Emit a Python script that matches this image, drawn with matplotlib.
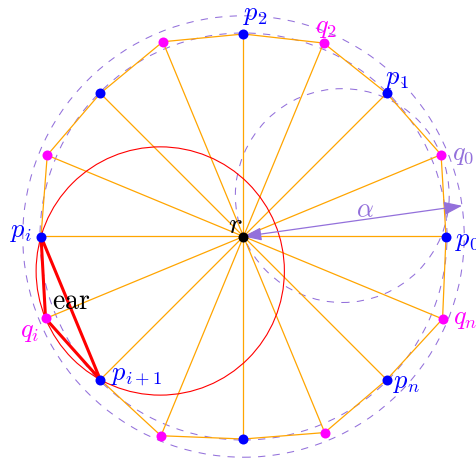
import numpy as np
import matplotlib.pyplot as plt
from matplotlib.patches import Circle

plt.rcParams["mathtext.fontset"] = "cm"

# vertices p_k on the unit circle (angles in degrees)
p_angles = [0, 45, 90, 135, 180, 225, 270, 315]
p_names = ["p_0", "p_1", "p_2", "", "p_i", "p_{i+1}", "", "p_n"]

# points q_k between them, a little further out
q_angles = [22.5, 67.5, 112.5, 157.5, 202.5, 247.5, 292.5, 337.5]
q_radii = [1.056, 1.034, 1.041, 1.049, 1.058, 1.065, 1.048, 1.064]
q_names = ["q_0", "q_2", "", "", "q_i", "", "", "q_n"]

inner_radius = 1.005
outer_radius = 1.09
alpha_angle = 8.0

# label offsets in pixels (x right, y up)
label_offsets = {
    "p_0": (21, -3), "p_1": (10, 16), "p_2": (12, 21), "p_i": (-20, 6),
    "p_{i+1}": (36, 6), "p_n": (20, -1),
    "q_0": (22, 2), "q_2": (2, 17), "q_i": (-16, -12), "q_n": (23, 2),
}

PX = 202.5  # pixels per unit
W, H = 476, 464
CX, CY = 243.5, 237.5

ORANGE = "#FFA500"
PURPLE = "#9370DB"


def polar(r, deg):
    a = np.deg2rad(deg)
    return np.array([r * np.cos(a), r * np.sin(a)])


def circumcircle(a, b, c):
    ax_, ay = a
    bx, by = b
    cx, cy = c
    d = 2 * (ax_ * (by - cy) + bx * (cy - ay) + cx * (ay - by))
    ux = ((ax_**2 + ay**2) * (by - cy) + (bx**2 + by**2) * (cy - ay) + (cx**2 + cy**2) * (ay - by)) / d
    uy = ((ax_**2 + ay**2) * (cx - bx) + (bx**2 + by**2) * (ax_ - cx) + (cx**2 + cy**2) * (bx - ax_)) / d
    centre = np.array([ux, uy])
    return centre, np.hypot(*(centre - np.array(a)))


def main():
    fig = plt.figure(figsize=(W / 100, H / 100), dpi=100)
    ax = fig.add_axes([0, 0, 1, 1])
    ax.set_xlim(-CX / PX, (W - CX) / PX)
    ax.set_ylim(-(H - CY) / PX, CY / PX)
    ax.axis("off")

    p_pts = [polar(1.0, a) for a in p_angles]
    q_pts = [polar(r, a) for r, a in zip(q_radii, q_angles)]

    # interleave p and q in angular order
    poly = []
    for p, q in zip(p_pts, q_pts):
        poly += [p, q]
    poly = np.array(poly)

    for pt in poly:
        ax.plot([0, pt[0]], [0, pt[1]], color=ORANGE, lw=0.9, zorder=2, snap=False)
    closed = np.vstack([poly, poly[:1]])
    ax.plot(closed[:, 0], closed[:, 1], color=ORANGE, lw=0.9, zorder=2, snap=False)

    dash = (0, (7, 7))
    ax.add_patch(Circle((0, 0), inner_radius, fill=False, ec=PURPLE, lw=0.75, ls=dash, zorder=1))
    ax.add_patch(Circle((0, 0), outer_radius, fill=False, ec=PURPLE, lw=0.75, ls=dash, zorder=1))
    q0 = q_pts[0]
    ax.add_patch(Circle(q0 / 2, np.hypot(*q0) / 2, fill=False, ec=PURPLE, lw=0.75, ls=dash, zorder=1))

    # the ear p_i, q_i, p_{i+1}
    pi, qi, pi1 = p_pts[4], q_pts[4], p_pts[5]
    c, rad = circumcircle(pi, qi, pi1)
    ax.add_patch(Circle(c, rad, fill=False, ec="red", lw=0.8, zorder=3))
    ear = np.array([pi, qi, pi1, pi])
    ax.plot(ear[:, 0], ear[:, 1], color="red", lw=2.2, zorder=4, solid_joinstyle="miter")

    tip = polar(outer_radius, alpha_angle)
    ax.annotate("", xy=tip, xytext=(0, 0),
                arrowprops=dict(arrowstyle="<|-|>,head_length=1.1,head_width=0.4",
                                color=PURPLE, lw=0.9, shrinkA=0, shrinkB=0),
                zorder=5)
    ax.annotate(r"$\alpha$", xy=tip / 2, xytext=(12, 12), textcoords="offset pixels",
                ha="center", va="center", fontsize=19, color=PURPLE)

    pts = np.array(p_pts)
    ax.plot(pts[:, 0], pts[:, 1], "o", color="blue", ms=7.2, mec="none", zorder=6)
    qs = np.array(q_pts)
    ax.plot(qs[:, 0], qs[:, 1], "o", color="magenta", ms=7.2, mec="none", zorder=6)
    ax.plot([0], [0], "o", color="black", ms=7.2, mec="none", zorder=6)

    for name, pt in zip(p_names, p_pts):
        if name:
            ax.annotate(f"${name}$", xy=pt, xytext=label_offsets[name], textcoords="offset pixels",
                        ha="center", va="center", fontsize=19, color="blue", zorder=7)
    for name, pt in zip(q_names, q_pts):
        if name:
            col = PURPLE if name == "q_0" else "magenta"
            ax.annotate(f"${name}$", xy=pt, xytext=label_offsets[name], textcoords="offset pixels",
                        ha="center", va="center", fontsize=19, color=col, zorder=7)

    ax.annotate(r"$r$", xy=(0, 0), xytext=(-8, 12), textcoords="offset pixels",
                ha="center", va="center", fontsize=21, color="black", zorder=7)
    ax.annotate(r"$\mathrm{ear}$", xy=pi, xytext=(30, -64), textcoords="offset pixels",
                ha="center", va="center", fontsize=20, color="black", zorder=7)

    fig.savefig("out.png", dpi=100)
    plt.close(fig)


if __name__ == "__main__":
    main()
